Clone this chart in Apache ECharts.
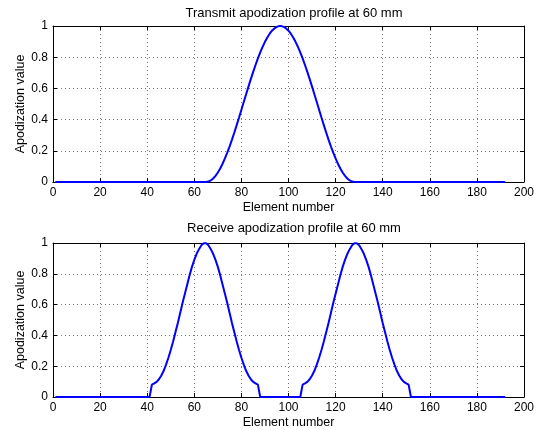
<!DOCTYPE html>
<html>
<head>
<meta charset="utf-8">
<script src="https://cdn.jsdelivr.net/npm/echarts@6/dist/echarts.min.js"></script>
<style>html,body{margin:0;padding:0;background:#fff}#c{width:545px;height:430px}</style>
</head>
<body>
<div id="c"></div>
<script>
// ---- Data ----
const xTicks = [0, 20, 40, 60, 80, 100, 120, 140, 160, 180, 200];
const yTicks = [0, 0.2, 0.4, 0.6, 0.8, 1];
const firstElement = 1;
const lastElement = 192;

// Transmit: active elements 65..128
const txStart = 65;
const txValues = [0, 0.0025, 0.0099, 0.0222, 0.0393, 0.0609, 0.0869, 0.1170, 0.1509, 0.1883, 0.2287, 0.2719, 0.3173, 0.3646, 0.4132, 0.4626, 0.5125, 0.5622, 0.6113, 0.6592, 0.7056, 0.75, 0.7919, 0.8308, 0.8665, 0.8986, 0.9266, 0.9505, 0.9698, 0.9845, 0.9944, 0.9994,
  0.9994, 0.9944, 0.9845, 0.9698, 0.9505, 0.9266, 0.8986, 0.8665, 0.8308, 0.7919, 0.75, 0.7056, 0.6592, 0.6113, 0.5622, 0.5125, 0.4626, 0.4132, 0.3646, 0.3173, 0.2719, 0.2287, 0.1883, 0.1509, 0.1170, 0.0869, 0.0609, 0.0393, 0.0222, 0.0099, 0.0025, 0];

// Receive: two active sub-apertures, elements 42..87 and 106..151
const rxLeftStart = 42;
const rxLeftValues = [0.08, 0.088, 0.098, 0.115, 0.14, 0.17, 0.21, 0.255, 0.305, 0.36, 0.42, 0.48, 0.545, 0.61, 0.67, 0.73, 0.79, 0.845, 0.89, 0.93, 0.96, 0.985, 0.998,
  0.998, 0.985, 0.96, 0.93, 0.89, 0.845, 0.79, 0.73, 0.67, 0.61, 0.545, 0.48, 0.42, 0.36, 0.305, 0.255, 0.21, 0.17, 0.14, 0.115, 0.098, 0.088, 0.08];
const rxRightStart = 106;
const rxRightValues = [0.08, 0.088, 0.098, 0.115, 0.14, 0.17, 0.21, 0.255, 0.305, 0.36, 0.42, 0.48, 0.545, 0.61, 0.67, 0.73, 0.79, 0.845, 0.89, 0.93, 0.96, 0.985, 0.998,
  0.998, 0.985, 0.96, 0.93, 0.89, 0.845, 0.79, 0.73, 0.67, 0.61, 0.545, 0.48, 0.42, 0.36, 0.305, 0.255, 0.21, 0.17, 0.14, 0.115, 0.098, 0.088, 0.08];

const titles = ['Transmit apodization profile at 60 mm', 'Receive apodization profile at 60 mm'];
const xName = 'Element number';
const yName = 'Apodization value';

// ---- Build series data from the arrays ----
function segment(start, vals) { return vals.map((v, i) => [start + i, v]); }
const txData = [[firstElement, 0], [txStart - 1, 0]]
  .concat(segment(txStart, txValues))
  .concat([[txStart + txValues.length, 0], [lastElement, 0]]);
const rxData = [[firstElement, 0], [rxLeftStart - 1, 0]]
  .concat(segment(rxLeftStart, rxLeftValues))
  .concat([[rxLeftStart + rxLeftValues.length, 0], [rxRightStart - 1, 0]])
  .concat(segment(rxRightStart, rxRightValues))
  .concat([[rxRightStart + rxRightValues.length, 0], [lastElement, 0]]);

const FONT = 'Liberation Sans';
const grids = [
  { left: 53, right: 21, top: 26, height: 156 },
  { left: 53, right: 21, top: 243, height: 155 }
];

function xAxes(gi) {
  const base = {
    gridIndex: gi, type: 'value', min: xTicks[0], max: xTicks[xTicks.length - 1],
    interval: xTicks[1] - xTicks[0],
    axisLine: { show: true, onZero: false, lineStyle: { color: '#000', width: 1 } },
    axisTick: { show: true, inside: true, length: 4, lineStyle: { color: '#000' } }
  };
  return [
    Object.assign({}, base, {
      position: 'bottom',
      name: xName, nameLocation: 'middle', nameGap: 19, nameMoveOverlap: false,
      nameTextStyle: { color: '#000', fontFamily: FONT, fontSize: 12.5 },
      axisLabel: { color: '#000', fontFamily: FONT, fontSize: 12, margin: 5 },
      splitLine: { show: true, lineStyle: { color: '#777', type: [1, 3], width: 1 } }
    }),
    Object.assign({}, base, {
      position: 'top', axisLabel: { show: false }, splitLine: { show: false }
    })
  ];
}
function yAxes(gi) {
  const base = {
    gridIndex: gi, type: 'value', min: yTicks[0], max: yTicks[yTicks.length - 1],
    interval: 0.2,
    axisLine: { show: true, onZero: false, lineStyle: { color: '#000', width: 1 } },
    axisTick: { show: true, inside: true, length: 4, lineStyle: { color: '#000' } }
  };
  return [
    Object.assign({}, base, {
      position: 'left',
      name: yName, nameLocation: 'middle', nameGap: 26, nameRotate: 90, nameMoveOverlap: false,
      nameTextStyle: { color: '#000', fontFamily: FONT, fontSize: 12.5 },
      axisLabel: { color: '#000', fontFamily: FONT, fontSize: 12, margin: 5,
        formatter: v => String(Math.round(v * 10) / 10) },
      splitLine: { show: true, lineStyle: { color: '#777', type: [1, 3], width: 1 } }
    }),
    Object.assign({}, base, {
      position: 'right', axisLabel: { show: false }, splitLine: { show: false }
    })
  ];
}

const option = {
  animation: false,
  backgroundColor: '#fff',
  textStyle: { fontFamily: FONT },
  title: [
    { text: titles[0], left: 289, top: 2, textAlign: 'center',
      textStyle: { fontFamily: FONT, fontSize: 13, fontWeight: 'normal', color: '#000' } },
    { text: titles[1], left: 289, top: 217, textAlign: 'center',
      textStyle: { fontFamily: FONT, fontSize: 13, fontWeight: 'normal', color: '#000' } }
  ],
  grid: grids,
  xAxis: xAxes(0).concat(xAxes(1)),
  yAxis: yAxes(0).concat(yAxes(1)),
  series: [
    { type: 'line', xAxisIndex: 0, yAxisIndex: 0, data: txData, showSymbol: false,
      lineStyle: { color: '#0000ff', width: 2 }, clip: false },
    { type: 'line', xAxisIndex: 2, yAxisIndex: 2, data: rxData, showSymbol: false,
      lineStyle: { color: '#0000ff', width: 2 }, clip: false }
  ]
};
echarts.init(document.getElementById('c'), null, { renderer: 'canvas' }).setOption(option);
</script>
</body>
</html>
